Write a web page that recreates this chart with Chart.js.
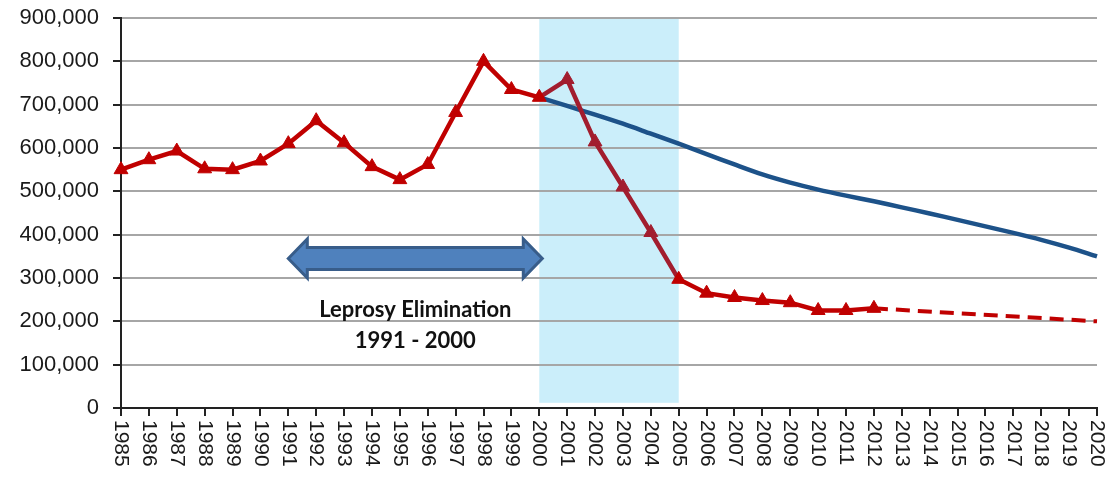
<!DOCTYPE html>
<html>
<head>
<meta charset="utf-8">
<script src="https://cdn.jsdelivr.net/npm/chart.js@4.4.1/dist/chart.umd.min.js"></script>
<style>
    html, body { margin: 0; padding: 0; background: #ffffff; }
    #wrap { width: 1107px; height: 480px; }
</style>
</head>
<body>
<div id="wrap"><canvas id="leprosy_chart"></canvas></div>
<script>

// Years on the x axis
const years = ["1985", "1986", "1987", "1988", "1989", "1990", "1991", "1992", "1993",
    "1994", "1995", "1996", "1997", "1998", "1999", "2000", "2001", "2002", "2003",
    "2004", "2005", "2006", "2007", "2008", "2009", "2010", "2011", "2012", "2013",
    "2014", "2015", "2016", "2017", "2018", "2019", "2020"];

// New cases detected (red, with triangles)
const detected = [550000, 573000, 593000, 552000, 550000, 570000, 610000, 663000, 612000,
    557000, 527000, 562000, 682000, 800000, 735000, 717000, 758000, 614000, 510000,
    405000, 297000, 265000, 255000, 248000, 243000, 225000, 225000, 230000, null,
    null, null, null, null, null, null, null];

// Projection after 2012 (red dashed)
const projected = [null, null, null, null, null, null, null, null, null,
    null, null, null, null, null, null, null, null, null, null,
    null, null, null, null, null, null, null, null, 230000, null,
    null, null, null, null, null, null, 200000];

// Expected trend from 2000 (blue)
const expected = [null, null, null, null, null, null, null, null, null,
    null, null, null, null, null, null, 717000, 697000, 677000, 656000,
    633000, 610000, 586000, 562000, 539000, 520000, 504000, 490000, 477000, 463000,
    449000, 434000, 419000, 404000, 388000, 370000, 350000];

const yTicks = [0, 100000, 200000, 300000, 400000, 500000, 600000, 700000, 800000, 900000];

const shadeYears = ["2000", "2005"];
const arrowYears = ["1991", "2000"];
const arrowValue = 345000;
const noteLines = ["Leprosy Elimination", "1991 - 2000"];
const noteValues = [227000, 155000];

const RED = "#c00000";
const DARK_RED = "#a21d2e";

// shaded band behind everything
const shadePlugin = {
    id: "shade",
    beforeDraw(chart) {
        const {ctx, scales: {x, y}} = chart;
        const x0 = x.getPixelForValue(years.indexOf(shadeYears[0]));
        const x1 = x.getPixelForValue(years.indexOf(shadeYears[1]));
        const y0 = y.getPixelForValue(900000);
        const y1 = y.getPixelForValue(12000);
        ctx.save();
        ctx.fillStyle = "#cbeefa";
        ctx.fillRect(x0, y0, x1 - x0, y1 - y0);
        ctx.restore();
    }
};

// arrow, note text and the rotated year labels
const annotatePlugin = {
    id: "annotate",
    afterDraw(chart) {
        const {ctx, chartArea, scales: {x, y}} = chart;
        ctx.save();

        // double headed arrow
        const ax0 = x.getPixelForValue(years.indexOf(arrowYears[0]));
        const ax1 = x.getPixelForValue(years.indexOf(arrowYears[1])) + 3;
        const ay = y.getPixelForValue(arrowValue);
        const head = 19, hh = 19.5, sh = 11;
        ctx.beginPath();
        ctx.moveTo(ax0, ay);
        ctx.lineTo(ax0 + head, ay - hh);
        ctx.lineTo(ax0 + head, ay - sh);
        ctx.lineTo(ax1 - head, ay - sh);
        ctx.lineTo(ax1 - head, ay - hh);
        ctx.lineTo(ax1, ay);
        ctx.lineTo(ax1 - head, ay + hh);
        ctx.lineTo(ax1 - head, ay + sh);
        ctx.lineTo(ax0 + head, ay + sh);
        ctx.lineTo(ax0 + head, ay + hh);
        ctx.closePath();
        ctx.fillStyle = "#4f81bd";
        ctx.fill();
        ctx.lineWidth = 3;
        ctx.strokeStyle = "#385d8a";
        ctx.lineJoin = "miter";
        ctx.stroke();

        // note under the arrow
        ctx.fillStyle = "#111111";
        ctx.font = "bold 22px Lato";
        ctx.textAlign = "center";
        ctx.textBaseline = "middle";
        const cx = (ax0 + ax1) / 2;
        noteLines.forEach((t, i) => ctx.fillText(t, cx, y.getPixelForValue(noteValues[i])));

        // year labels, turned clockwise
        ctx.font = "21px 'Liberation Sans'";
        ctx.fillStyle = "#1a1a1a";
        ctx.textAlign = "left";
        ctx.textBaseline = "middle";
        years.forEach((label, i) => {
            ctx.save();
            ctx.translate(x.getPixelForValue(i), chartArea.bottom + 12);
            ctx.rotate(Math.PI / 2);
            ctx.fillText(label, 0, 0);
            ctx.restore();
        });

        ctx.restore();
    }
};

const pointColors = detected.map((v, i) => (i >= 16 && i <= 19) ? DARK_RED : RED);

new Chart(document.getElementById("leprosy_chart"), {
    type: "line",
    data: {
        labels: years,
        datasets: [
            {
                label: "Detected",
                data: detected,
                borderColor: RED,
                borderWidth: 4.5,
                pointStyle: "triangle",
                pointRadius: 8,
                pointBackgroundColor: pointColors,
                pointBorderColor: pointColors,
                pointBorderWidth: 1,
                tension: 0,
                segment: {
                    borderColor: c => (c.p0DataIndex >= 15 && c.p0DataIndex <= 19) ? DARK_RED : RED
                }
            },
            {
                label: "Projection",
                data: projected,
                borderColor: RED,
                borderWidth: 4,
                borderDash: [14, 8],
                pointRadius: 0,
                spanGaps: true
            },
            {
                label: "Expected",
                data: expected,
                borderColor: "#1d5289",
                borderWidth: 4.5,
                pointRadius: 0,
                tension: 0.3
            }
        ]
    },
    options: {
        responsive: true,
        maintainAspectRatio: false,
        animation: false,
        events: [],
        layout: { padding: { top: 0, right: 10, bottom: 0, left: 0 } },
        plugins: {
            legend: { display: false },
            tooltip: { enabled: false }
        },
        scales: {
            x: {
                offset: false,
                grid: {
                    drawOnChartArea: false,
                    drawTicks: true,
                    tickLength: 8,
                    tickColor: "#222222",
                    lineWidth: 2
                },
                border: { color: "#222222", width: 2 },
                ticks: { display: false },
                afterFit(scale) { scale.height = 72; }
            },
            y: {
                min: 0,
                max: 900000,
                afterBuildTicks(scale) { scale.ticks = yTicks.map(v => ({value: v})); },
                grid: {
                    color: "#a6a6a6",
                    lineWidth: 2,
                    tickLength: 8,
                    tickColor: "#222222"
                },
                border: { color: "#222222", width: 2 },
                ticks: {
                    padding: 14,
                    color: "#1a1a1a",
                    font: { family: "'Liberation Sans'", size: 22 },
                    callback: v => v.toLocaleString("en-US")
                },
                afterFit(scale) {
                    scale.width = 121;
                    scale.paddingTop = 18;
                    scale.paddingBottom = 10;
                }
            }
        }
    },
    plugins: [shadePlugin, annotatePlugin]
});

</script>
</body>
</html>
